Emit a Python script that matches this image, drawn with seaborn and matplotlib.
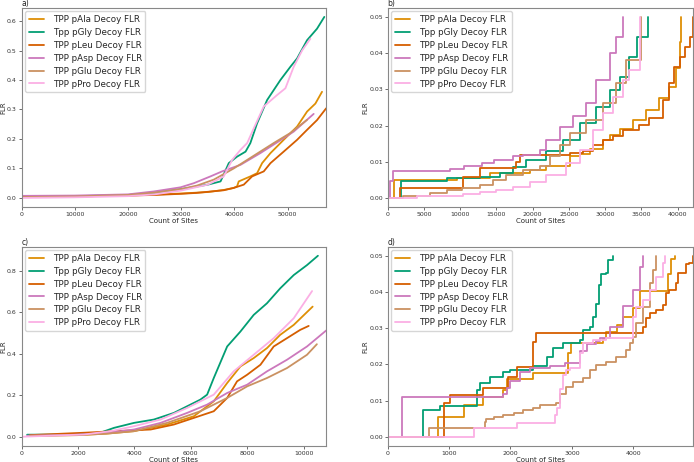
import matplotlib
matplotlib.use("Agg")
import matplotlib.pyplot as plt
import seaborn as sns
import pandas as pd

series_names = ["TPP pAla Decoy FLR", "Tpp pGly Decoy FLR", "TPP pLeu Decoy FLR",
                "TPP pAsp Decoy FLR", "TPP pGlu Decoy FLR", "TPP pPro Decoy FLR"]
panel_labels = ["a)", "b)", "c)", "d)"]
x_label = "Count of Sites"
y_label = "FLR"

# ---- panel a ----
a_ala_x = [0, 10000, 20000, 30000, 35000, 38000, 39880, 40500, 40820, 43000, 44270, 45210, 46780, 49260, 51780, 53660, 55220, 56470]
a_ala_y = [0.003, 0.005, 0.008, 0.015, 0.02, 0.027, 0.034, 0.039, 0.056, 0.073, 0.084, 0.118, 0.152, 0.197, 0.242, 0.293, 0.32, 0.36]
a_gly_x = [0, 10000, 20000, 25000, 30000, 35000, 37400, 38950, 40500, 42100, 43000, 44270, 46150, 48650, 50530, 51780, 53660, 55530, 56900]
a_gly_y = [0.005, 0.006, 0.01, 0.018, 0.03, 0.045, 0.056, 0.118, 0.14, 0.157, 0.186, 0.253, 0.332, 0.40, 0.445, 0.473, 0.535, 0.574, 0.614]
a_leu_x = [0, 10000, 20000, 25000, 30000, 32880, 38000, 39880, 41760, 43330, 45520, 46780, 49260, 51780, 53660, 55530, 57250]
a_leu_y = [0.004, 0.005, 0.008, 0.01, 0.014, 0.017, 0.026, 0.034, 0.045, 0.073, 0.09, 0.118, 0.157, 0.197, 0.231, 0.264, 0.304]
a_asp_x = [0, 10000, 20000, 24880, 29890, 32380, 35500, 37690, 41130, 44880, 48000, 51150, 54900]
a_asp_y = [0.007, 0.008, 0.012, 0.022, 0.036, 0.05, 0.073, 0.09, 0.112, 0.152, 0.188, 0.225, 0.285]
a_glu_x = [0, 10000, 20000, 25000, 30000, 33000, 36130, 39880, 43630, 47380, 50500, 53660]
a_glu_y = [0.003, 0.005, 0.01, 0.018, 0.03, 0.042, 0.062, 0.10, 0.143, 0.186, 0.22, 0.265]
a_pro_x = [0, 10000, 20000, 25000, 30000, 35000, 38000, 39580, 41140, 42400, 43640, 45520, 48030, 49590, 51150, 52720, 54280]
a_pro_y = [0.0, 0.002, 0.006, 0.012, 0.025, 0.045, 0.073, 0.129, 0.163, 0.186, 0.236, 0.31, 0.349, 0.372, 0.445, 0.50, 0.54]

# ---- panel b ----
b_ala_x = [0, 830, 9500, 14090, 19600, 21900, 25110, 26490, 27870, 29700, 30620, 32000, 33830, 35670, 37510, 38880, 39800, 40300, 40540]
b_ala_y = [0, 0.0049, 0.0055, 0.0069, 0.0077, 0.0087, 0.0115, 0.012, 0.0135, 0.016, 0.0175, 0.019, 0.0215, 0.0243, 0.0275, 0.0306, 0.036, 0.043, 0.05]
b_gly_x = [0, 1880, 8130, 12710, 15470, 17300, 19140, 21900, 24190, 26490, 28790, 30620, 32000, 33370, 34340, 35950]
b_gly_y = [0, 0.0046, 0.0055, 0.0059, 0.0069, 0.0085, 0.0105, 0.013, 0.016, 0.0206, 0.0252, 0.0298, 0.0335, 0.039, 0.0445, 0.05]
b_leu_x = [0, 1745, 10420, 12710, 17770, 18230, 25110, 26900, 28330, 29700, 31080, 32450, 34750, 36130, 37960, 38880, 39570, 40300, 41000, 41700, 42150]
b_leu_y = [0, 0.0028, 0.0059, 0.0083, 0.0098, 0.0119, 0.0125, 0.013, 0.0145, 0.016, 0.017, 0.0188, 0.0202, 0.022, 0.027, 0.0317, 0.0362, 0.039, 0.0417, 0.0445, 0.05]
b_asp_x = [0, 370, 690, 8580, 10500, 12950, 14600, 17300, 18680, 20980, 21900, 23730, 25560, 27400, 28790, 30620, 31540, 32450]
b_asp_y = [0, 0.0046, 0.0073, 0.0079, 0.0088, 0.0096, 0.0105, 0.0115, 0.0118, 0.0133, 0.016, 0.0197, 0.0225, 0.0261, 0.0326, 0.0399, 0.0445, 0.05]
b_glu_x = [0, 2150, 5830, 8130, 10200, 12710, 14550, 16390, 18690, 20990, 22360, 23740, 25110, 27400, 29700, 31540, 32910, 34900]
b_glu_y = [0, 0.0005, 0.0014, 0.0021, 0.0028, 0.0036, 0.005, 0.0063, 0.0077, 0.0087, 0.0115, 0.0147, 0.0179, 0.0216, 0.0261, 0.0317, 0.038, 0.05]
b_pro_x = [0, 4000, 10420, 12710, 15010, 17300, 19600, 21900, 24650, 26490, 28330, 29700, 31080, 32450, 33370, 34800]
b_pro_y = [0, 0.0005, 0.001, 0.0015, 0.0022, 0.003, 0.0045, 0.0064, 0.0096, 0.0133, 0.0188, 0.0234, 0.028, 0.0326, 0.0353, 0.05]

# ---- panel c ----
c_ala_x = [300, 2000, 3000, 3990, 5160, 6110, 6815, 7290, 7760, 8230, 8700, 9170, 9650, 10320]
c_ala_y = [0.005, 0.008, 0.015, 0.027, 0.059, 0.099, 0.171, 0.259, 0.339, 0.379, 0.427, 0.491, 0.539, 0.627]
c_gly_x = [200, 1630, 2800, 3280, 3990, 4690, 5400, 5870, 6340, 6580, 6815, 7290, 7760, 8230, 8700, 9170, 9650, 10120, 10507]
c_gly_y = [0.01, 0.011, 0.02, 0.043, 0.067, 0.083, 0.115, 0.147, 0.179, 0.203, 0.283, 0.435, 0.507, 0.587, 0.643, 0.715, 0.779, 0.827, 0.872]
c_leu_x = [300, 2300, 3300, 4580, 5400, 6110, 6815, 7290, 7640, 8000, 8470, 8940, 9410, 9880, 10180]
c_leu_y = [0.008, 0.02, 0.027, 0.035, 0.059, 0.091, 0.123, 0.187, 0.267, 0.299, 0.347, 0.435, 0.475, 0.515, 0.534]
c_asp_x = [200, 2000, 3000, 3990, 4930, 5870, 6580, 7290, 8000, 8700, 9410, 10120, 10800]
c_asp_y = [0.005, 0.01, 0.018, 0.035, 0.067, 0.115, 0.155, 0.211, 0.251, 0.315, 0.371, 0.435, 0.512]
c_glu_x = [300, 2000, 3000, 3990, 5160, 6340, 7290, 8000, 8700, 9410, 10120, 10470]
c_glu_y = [0.005, 0.008, 0.015, 0.027, 0.067, 0.123, 0.187, 0.243, 0.283, 0.331, 0.395, 0.446]
c_pro_x = [0, 2220, 3160, 3990, 4930, 5870, 6815, 7520, 8230, 8940, 9650, 10300]
c_pro_y = [0.0, 0.011, 0.027, 0.051, 0.083, 0.139, 0.203, 0.315, 0.395, 0.475, 0.571, 0.702]

# ---- panel d ----
d_ala_x = [0, 815, 1250, 1550, 1886, 1940, 2370, 2940, 2990, 3500, 3560, 3730, 3840, 4000, 4108, 4560, 4620, 4680]
d_ala_y = [0, 0.0055, 0.0087, 0.011, 0.0128, 0.016, 0.0175, 0.0231, 0.0258, 0.027, 0.029, 0.031, 0.0331, 0.0357, 0.0404, 0.045, 0.049, 0.05]
d_gly_x = [0, 569, 850, 1460, 1500, 1663, 1880, 2000, 2374, 2590, 2700, 2860, 3130, 3180, 3290, 3340, 3398, 3450, 3480, 3560, 3590, 3670]
d_gly_y = [0, 0.0074, 0.0085, 0.0129, 0.0148, 0.0166, 0.018, 0.0185, 0.0196, 0.0219, 0.0246, 0.026, 0.0268, 0.0295, 0.0304, 0.033, 0.0367, 0.042, 0.045, 0.0453, 0.0488, 0.05]
d_leu_x = [0, 920, 1013, 1555, 1961, 2098, 2368, 2423, 4157, 4211, 4265, 4373, 4480, 4535, 4590, 4700, 4727, 4862, 4915, 4975]
d_leu_y = [0, 0.0092, 0.0115, 0.0136, 0.0166, 0.0194, 0.0263, 0.0287, 0.0304, 0.0327, 0.0341, 0.035, 0.0364, 0.0396, 0.0406, 0.0424, 0.0452, 0.0477, 0.048, 0.05]
d_asp_x = [0, 228, 1886, 1940, 2000, 2157, 2314, 2640, 2890, 3130, 3240, 3398, 3460, 3615, 3831, 3994, 4102, 4157]
d_asp_y = [0, 0.0111, 0.0117, 0.0136, 0.0154, 0.018, 0.0189, 0.0196, 0.0205, 0.0237, 0.0255, 0.0265, 0.0274, 0.0304, 0.036, 0.0406, 0.047, 0.05]
d_glu_x = [0, 677, 1582, 1600, 1733, 1880, 2050, 2205, 2368, 2482, 2748, 2800, 2910, 3020, 3180, 3290, 3400, 3560, 3720, 3885, 3940, 3994, 4050, 4157, 4265, 4320, 4375]
d_glu_y = [0, 0.0023, 0.0041, 0.005, 0.0055, 0.006, 0.0065, 0.0074, 0.008, 0.0088, 0.0092, 0.0119, 0.0138, 0.0152, 0.0161, 0.0184, 0.0198, 0.0207, 0.022, 0.0239, 0.0258, 0.0276, 0.0313, 0.0359, 0.0424, 0.0461, 0.05]
d_pro_x = [0, 1400, 2100, 2726, 2753, 2808, 2862, 2910, 2970, 3127, 3180, 3340, 3560, 3994, 4050, 4157, 4265, 4375, 4480, 4510]
d_pro_y = [0, 0.0025, 0.0039, 0.006, 0.008, 0.0131, 0.0172, 0.0185, 0.019, 0.0231, 0.0258, 0.0267, 0.0272, 0.033, 0.0359, 0.0378, 0.0406, 0.0442, 0.048, 0.05]

panels = [
    [(a_ala_x, a_ala_y), (a_gly_x, a_gly_y), (a_leu_x, a_leu_y), (a_asp_x, a_asp_y), (a_glu_x, a_glu_y), (a_pro_x, a_pro_y)],
    [(b_ala_x, b_ala_y), (b_gly_x, b_gly_y), (b_leu_x, b_leu_y), (b_asp_x, b_asp_y), (b_glu_x, b_glu_y), (b_pro_x, b_pro_y)],
    [(c_ala_x, c_ala_y), (c_gly_x, c_gly_y), (c_leu_x, c_leu_y), (c_asp_x, c_asp_y), (c_glu_x, c_glu_y), (c_pro_x, c_pro_y)],
    [(d_ala_x, d_ala_y), (d_gly_x, d_gly_y), (d_leu_x, d_leu_y), (d_asp_x, d_asp_y), (d_glu_x, d_glu_y), (d_pro_x, d_pro_y)],
]
stepped = [False, True, False, True]

sns.set_theme(style="ticks")
plt.rcParams["font.family"] = ["DejaVu Sans"]
colors = sns.color_palette("colorblind")[1:7]
palette = dict(zip(series_names, colors))

fig = plt.figure(figsize=(6.94, 4.62), dpi=100)
rects = [[0.031, 0.552, 0.439, 0.431], [0.5587, 0.552, 0.440, 0.431],
         [0.031, 0.035, 0.439, 0.431], [0.5587, 0.035, 0.440, 0.431]]

for i, (rect, data) in enumerate(zip(rects, panels)):
    ax = fig.add_axes(rect)
    rows = []
    for name, (xs, ys) in zip(series_names, data):
        for xv, yv in zip(xs, ys):
            rows.append((name, xv, yv))
    df = pd.DataFrame(rows, columns=["series", "x", "y"])
    kw = {"drawstyle": "steps-post"} if stepped[i] else {}
    sns.lineplot(data=df, x="x", y="y", hue="series", palette=palette,
                 estimator=None, sort=False, lw=1.3, ax=ax, **kw)
    ax.set_xlim(0, df["x"].max())
    ax.set_xlabel(x_label, fontsize=5, labelpad=1)
    ax.set_ylabel(y_label, fontsize=5, labelpad=0.5)
    ax.tick_params(labelsize=4.5, length=2, width=0.5, pad=1.5, colors="#333333")
    for s in ax.spines.values():
        s.set_color("#888888")
        s.set_linewidth(0.8)
    ax.set_title(panel_labels[i], loc="left", fontsize=5.5, pad=1.5)
    handles, labels = ax.get_legend_handles_labels()
    ax.legend(handles, labels, loc="upper left", fontsize=6.3, frameon=True,
              handlelength=1.75, handletextpad=1.0, labelspacing=0.45,
              borderpad=0.4, borderaxespad=0.4,
              framealpha=0.8, edgecolor="#cccccc", fancybox=True)

fig.savefig("out.png", dpi=100)
